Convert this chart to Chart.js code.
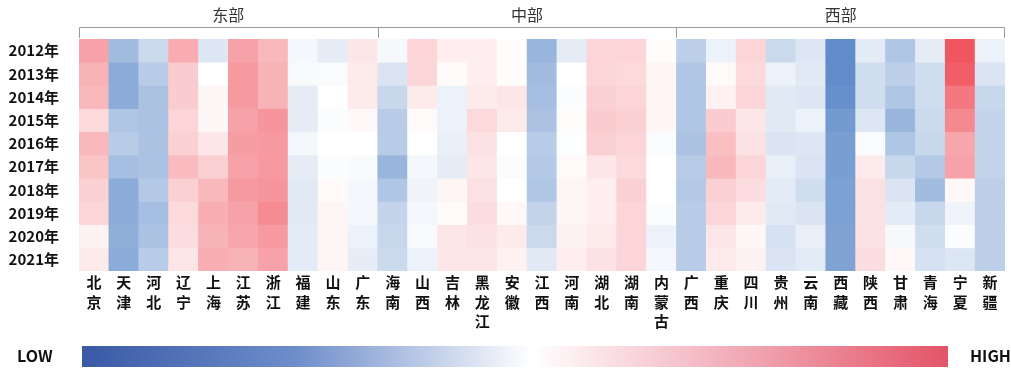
<!DOCTYPE html>
<html>
<head>
<meta charset="utf-8">
<script src="https://cdn.jsdelivr.net/npm/chart.js@4/dist/chart.umd.min.js"></script>
<style>
  html, body { margin: 0; padding: 0; background: #fff; }
  #wrap { width: 1011px; height: 369px; position: relative; }
</style>
</head>
<body>
<div id="wrap"><canvas id="c"></canvas></div>
<script>
// Province x year heatmap, drawn as stacked bars (one dataset per year).
// Values run from -1 (LOW, blue) through 0 (white) to +1 (HIGH, red).

const PROVINCES = ['北京', '天津', '河北', '辽宁', '上海', '江苏', '浙江', '福建', '山东', '广东',
  '海南', '山西', '吉林', '黑龙江', '安徽', '江西', '河南', '湖北', '湖南', '内蒙古',
  '广西', '重庆', '四川', '贵州', '云南', '西藏', '陕西', '甘肃', '青海', '宁夏', '新疆'];

const YEARS = [2012, 2013, 2014, 2015, 2016, 2017, 2018, 2019, 2020, 2021];

const REGIONS = [
  { name: '东部', first: 0, last: 9 },
  { name: '中部', first: 10, last: 19 },
  { name: '西部', first: 20, last: 30 },
];

// one row per year, columns in PROVINCES order
const V2012 = [0.55, -0.50, -0.28, 0.50, -0.18, 0.55, 0.42, -0.06, -0.14, 0.15, -0.05, 0.25, 0.10, 0.10, 0.02, -0.55, -0.14, 0.25, 0.25, 0.02, -0.35, -0.10, 0.25, -0.28, -0.18, -0.85, -0.15, -0.42, -0.14, 1.00, -0.10];
const V2013 = [0.45, -0.62, -0.38, 0.30, 0.00, 0.60, 0.45, -0.04, -0.03, 0.12, -0.20, 0.25, 0.03, 0.10, 0.02, -0.50, 0.00, 0.25, 0.22, 0.06, -0.42, 0.03, 0.22, -0.10, -0.16, -0.85, -0.25, -0.35, -0.25, 0.95, -0.20];
const V2014 = [0.42, -0.62, -0.45, 0.30, 0.05, 0.60, 0.45, -0.14, 0.00, 0.12, -0.30, 0.12, -0.10, 0.12, 0.15, -0.48, -0.02, 0.28, 0.25, 0.06, -0.42, 0.08, 0.25, -0.16, -0.18, -0.82, -0.25, -0.42, -0.25, 0.80, -0.30];
const V2015 = [0.22, -0.42, -0.45, 0.25, 0.05, 0.55, 0.62, -0.14, -0.02, 0.04, -0.38, 0.03, -0.10, 0.22, 0.12, -0.45, 0.02, 0.30, 0.28, 0.06, -0.42, 0.30, 0.15, -0.16, -0.10, -0.75, -0.18, -0.55, -0.28, 0.70, -0.32];
const V2016 = [0.42, -0.38, -0.45, 0.28, 0.15, 0.58, 0.60, -0.06, 0.00, 0.00, -0.38, 0.00, -0.12, 0.18, 0.00, -0.38, -0.01, 0.28, 0.25, -0.02, -0.45, 0.38, 0.18, -0.20, -0.18, -0.72, -0.03, -0.42, -0.30, 0.52, -0.32];
const V2017 = [0.35, -0.48, -0.45, 0.40, 0.28, 0.55, 0.60, -0.14, -0.02, -0.04, -0.55, -0.06, -0.14, 0.15, -0.03, -0.40, 0.03, 0.15, 0.22, 0.00, -0.38, 0.42, 0.25, -0.12, -0.20, -0.72, 0.12, -0.30, -0.40, 0.55, -0.32];
const V2018 = [0.28, -0.62, -0.40, 0.28, 0.42, 0.60, 0.62, -0.16, 0.03, -0.06, -0.42, -0.08, 0.06, 0.18, 0.00, -0.42, 0.06, 0.10, 0.28, 0.00, -0.40, 0.28, 0.20, -0.15, -0.25, -0.70, 0.18, -0.20, -0.50, 0.04, -0.35];
const V2019 = [0.25, -0.62, -0.48, 0.22, 0.48, 0.55, 0.68, -0.16, 0.06, -0.06, -0.32, -0.06, 0.03, 0.20, 0.04, -0.32, 0.06, 0.10, 0.25, -0.02, -0.38, 0.25, 0.12, -0.16, -0.20, -0.70, 0.18, -0.15, -0.30, -0.08, -0.35];
const V2020 = [0.08, -0.60, -0.45, 0.20, 0.45, 0.52, 0.60, -0.15, 0.06, -0.10, -0.30, -0.04, 0.15, 0.17, 0.12, -0.28, 0.08, 0.12, 0.25, -0.10, -0.38, 0.15, 0.05, -0.22, -0.12, -0.68, 0.18, -0.05, -0.25, -0.02, -0.35];
const V2021 = [0.12, -0.62, -0.38, 0.15, 0.48, 0.45, 0.55, -0.15, 0.06, -0.13, -0.28, -0.10, 0.15, 0.15, 0.08, -0.16, 0.10, 0.17, 0.25, -0.06, -0.38, 0.12, 0.08, -0.20, -0.15, -0.68, 0.20, 0.04, -0.22, -0.18, -0.35];

const VALUES = [V2012, V2013, V2014, V2015, V2016, V2017, V2018, V2019, V2020, V2021];

const LOW_RGB = [68, 120, 192];
const HIGH_RGB = [240, 86, 96];
const FONT = "'Noto Sans CJK SC', 'Open Sans', sans-serif";

function cellColour(v) {
  const end = v < 0 ? LOW_RGB : HIGH_RGB;
  const t = Math.min(1, Math.abs(v));
  const c = end.map(e => Math.round(255 + (e - 255) * t));
  return `rgb(${c[0]}, ${c[1]}, ${c[2]})`;
}

const datasets = YEARS.map((y, i) => ({
  label: y + '年',
  data: PROVINCES.map(() => 1),
  backgroundColor: VALUES[i].map(cellColour),
  borderWidth: 0,
  barPercentage: 1,
  categoryPercentage: 1,
}));

// region brackets + labels above the grid, colour bar below
const decorations = {
  id: 'decorations',
  afterDraw(chart) {
    const { ctx, chartArea, scales: { x } } = chart;
    const half = (x.getPixelForValue(1) - x.getPixelForValue(0)) / 2;
    const lineY = 27;
    ctx.save();
    ctx.strokeStyle = '#999';
    ctx.lineWidth = 1;
    ctx.beginPath();
    ctx.moveTo(chartArea.left + 0.5, chartArea.top - 1);
    ctx.lineTo(chartArea.left + 0.5, lineY + 0.5);
    ctx.lineTo(chartArea.right - 0.5, lineY + 0.5);
    ctx.lineTo(chartArea.right - 0.5, chartArea.top - 1);
    for (const r of REGIONS.slice(1)) {
      const bx = Math.round(x.getPixelForValue(r.first) - half) + 0.5;
      ctx.moveTo(bx, lineY);
      ctx.lineTo(bx, chartArea.top - 1);
    }
    ctx.stroke();

    ctx.fillStyle = '#333';
    ctx.font = `400 16px ${FONT}`;
    ctx.textAlign = 'center';
    ctx.textBaseline = 'middle';
    for (const r of REGIONS) {
      const cx = (x.getPixelForValue(r.first) + x.getPixelForValue(r.last)) / 2;
      ctx.fillText(r.name, cx, 15);
    }

    // colour bar legend
    const barL = chartArea.left + 3, barR = 948, barT = 346, barB = 367;
    const g = ctx.createLinearGradient(barL, 0, barR, 0);
    g.addColorStop(0, '#3a59a6');
    g.addColorStop(0.25, '#6f8ecb');
    g.addColorStop(0.52, '#ffffff');
    g.addColorStop(0.76, '#f1aab6');
    g.addColorStop(1, '#e35467');
    ctx.fillStyle = g;
    ctx.fillRect(barL, barT, barR - barL, barB - barT);

    ctx.fillStyle = '#111';
    ctx.font = `700 16px ${FONT}`;
    ctx.textAlign = 'left';
    ctx.fillText('LOW', 17, 356);
    ctx.fillText('HIGH', 970, 356);
    ctx.restore();
  },
};

new Chart(document.getElementById('c'), {
  type: 'bar',
  data: { labels: PROVINCES.map(p => p.split('')), datasets },
  plugins: [decorations],
  options: {
    responsive: true,
    maintainAspectRatio: false,
    animation: false,
    layout: { padding: { top: 39, right: 6, left: 0, bottom: 0 } },
    plugins: { legend: { display: false }, tooltip: { enabled: false } },
    scales: {
      x: {
        stacked: true,
        grid: { display: false },
        border: { display: false },
        ticks: {
          color: '#111',
          font: { family: FONT, size: 15, weight: '700', lineHeight: 1.3 },
          padding: -6,
          maxRotation: 0,
          autoSkip: false,
        },
        afterFit: (s) => { s.height = 98; },
      },
      y: {
        stacked: true,
        reverse: true,
        min: 0,
        max: YEARS.length,
        grid: { display: false },
        border: { display: false },
        afterBuildTicks: (s) => { s.ticks = YEARS.map((_, i) => ({ value: i + 0.5 })); },
        ticks: {
          color: '#111',
          font: { family: FONT, size: 15, weight: '700' },
          padding: 12,
          callback: (v) => YEARS[Math.floor(v)] + '年',
        },
        afterFit: (s) => { s.width = 79; },
      },
    },
  },
});
</script>
</body>
</html>
